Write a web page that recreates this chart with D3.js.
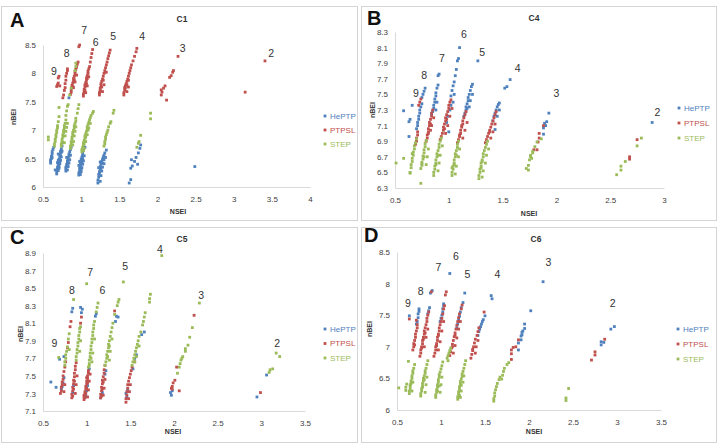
<!DOCTYPE html>
<html><head><meta charset="utf-8">
<script src="https://cdn.jsdelivr.net/npm/d3@7"></script>
<style>body{margin:0;background:#fff}svg{display:block}text{font-family:"Liberation Sans",Arial,sans-serif}</style>
</head><body><svg id="chart" width="718" height="448"></svg>
<script>
const seriesNames = ["HePTP", "PTPSL", "STEP"];
const seriesColors = ["#4f81bd", "#c0504d", "#9bbb59"];

// ---------- C1 ----------
const c1_xTicks = [0.5, 1, 1.5, 2, 2.5, 3, 3.5, 4];
const c1_yTicks = [6, 6.5, 7, 7.5, 8, 8.5];
const c1_HePTP = [
[0.60,6.42],[0.60,6.46],[0.61,6.50],[0.61,6.54],[0.62,6.58],[0.62,6.62],[0.63,6.66],[0.64,6.70],[0.60,6.48],[0.62,6.52],
[0.68,6.23],[0.68,6.27],[0.69,6.31],[0.69,6.35],[0.70,6.38],[0.70,6.42],[0.71,6.45],[0.71,6.49],[0.72,6.52],[0.72,6.56],[0.73,6.60],[0.73,6.63],[0.74,6.67],[0.75,6.72],[0.76,6.78],[0.70,6.47],[0.72,6.44],[0.71,6.36],[0.73,6.55],[0.74,6.61],
[0.66,6.30],[0.70,6.29],[0.71,6.33],[0.72,6.41],[0.73,6.47],[0.74,6.53],[0.75,6.63],[0.69,6.43],[0.70,6.58],
[0.80,6.28],[0.80,6.32],[0.81,6.36],[0.81,6.40],[0.82,6.43],[0.82,6.46],[0.83,6.50],[0.84,6.54],[0.84,6.58],[0.85,6.62],[0.86,6.66],[0.87,6.70],[0.82,6.38],[0.83,6.44],[0.80,6.35],
[0.82,6.30],[0.83,6.36],[0.84,6.42],[0.85,6.48],[0.86,6.56],[0.81,6.52],
[0.97,6.21],[0.97,6.25],[0.98,6.29],[0.98,6.33],[0.99,6.37],[0.99,6.41],[1.00,6.45],[1.00,6.49],[1.01,6.53],[1.02,6.57],[1.02,6.61],[1.03,6.65],[1.05,6.70],[0.99,6.35],[1.01,6.43],[1.00,6.31],[1.02,6.50],
[0.99,6.22],[1.00,6.27],[1.01,6.34],[1.02,6.40],[1.03,6.46],[1.04,6.55],[0.98,6.45],[0.97,6.38],
[1.22,6.07],[1.22,6.12],[1.23,6.17],[1.23,6.22],[1.24,6.27],[1.25,6.31],[1.25,6.36],[1.26,6.40],[1.27,6.45],[1.28,6.49],[1.29,6.53],[1.30,6.56],[1.31,6.60],[1.33,6.65],[1.24,6.24],[1.26,6.33],[1.28,6.42],[1.30,6.48],
[1.25,6.10],[1.26,6.20],[1.27,6.28],[1.28,6.35],[1.30,6.41],[1.32,6.52],[1.23,6.34],[1.25,6.44],
[1.63,6.07],[1.65,6.13],[1.65,6.33],[1.67,6.37],[1.66,6.48],[1.70,6.45],[1.72,6.52],[1.74,6.40],[1.75,6.60],[1.77,6.68],[1.78,6.74],
[2.49,6.36],[0.84,7.57]];
const c1_PTPSL = [
[0.68,7.77],[0.69,7.80],[0.70,7.83],[0.70,7.92],[0.71,7.95],[0.72,7.78],
[0.76,7.57],[0.77,7.62],[0.78,7.70],[0.79,7.75],[0.79,7.82],[0.80,7.88],[0.80,7.95],[0.81,8.00],[0.82,8.05],[0.82,8.08],
[0.86,7.63],[0.87,7.67],[0.87,7.71],[0.88,7.75],[0.88,7.79],[0.89,7.83],[0.90,7.87],[0.90,7.91],[0.91,7.95],[0.92,7.99],[0.92,8.03],[0.93,8.07],[0.94,8.11],[0.95,8.16],[0.96,8.20],[0.89,7.77],[0.91,7.89],[0.97,8.47],[0.98,8.50],
[0.90,7.75],[0.92,7.85],[0.94,7.97],
[1.03,7.60],[1.03,7.64],[1.04,7.68],[1.04,7.72],[1.05,7.76],[1.05,7.80],[1.06,7.84],[1.07,7.88],[1.07,7.92],[1.08,7.96],[1.09,8.00],[1.09,8.04],[1.10,8.08],[1.11,8.12],[1.12,8.20],[1.13,8.28],[1.14,8.35],[1.15,8.42],[1.05,7.70],[1.07,7.82],[1.08,7.91],
[1.06,7.66],[1.08,7.78],[1.10,7.94],
[1.24,7.62],[1.24,7.66],[1.25,7.70],[1.25,7.74],[1.26,7.78],[1.26,7.82],[1.27,7.86],[1.28,7.90],[1.29,7.95],[1.30,8.00],[1.31,8.05],[1.32,8.10],[1.33,8.15],[1.34,8.20],[1.35,8.26],[1.36,8.31],[1.37,8.36],[1.38,8.41],[1.25,7.68],[1.27,7.76],[1.29,7.88],[1.33,8.02],
[1.28,7.68],[1.30,7.80],
[1.56,7.62],[1.56,7.66],[1.57,7.70],[1.58,7.74],[1.58,7.78],[1.59,7.82],[1.60,7.86],[1.61,7.90],[1.62,7.95],[1.63,8.00],[1.64,8.05],[1.65,8.10],[1.66,8.15],[1.68,8.22],[1.70,8.30],[1.72,8.38],[1.73,8.44],[1.57,7.75],[1.60,7.80],[1.62,7.88],
[1.60,7.68],[1.62,7.76],
[2.05,7.62],[2.06,7.67],[2.05,7.71],[2.08,7.74],[2.10,7.78],[2.12,7.53],[2.16,7.93],[2.18,7.96],[2.20,8.02],[2.21,8.05],[2.27,8.30],
[3.15,7.67],[3.41,8.22]];
const c1_STEP = [
[0.57,6.88],[0.57,6.83],
[0.65,6.72],[0.65,6.76],[0.66,6.80],[0.66,6.84],[0.67,6.88],[0.67,6.92],[0.68,6.96],[0.68,7.00],[0.69,7.04],[0.69,7.08],[0.70,7.15],[0.71,7.24],[0.71,7.40],
[0.74,6.72],[0.74,6.76],[0.75,6.80],[0.75,6.84],[0.76,6.88],[0.76,6.92],[0.77,6.96],[0.77,7.00],[0.78,7.04],[0.78,7.08],[0.79,7.12],[0.80,7.18],[0.80,7.26],[0.81,7.34],[0.82,7.42],[0.83,7.45],
[0.79,6.90],[0.80,6.98],[0.81,7.05],[0.78,6.78],[0.82,7.12],
[0.86,6.68],[0.86,6.72],[0.87,6.76],[0.87,6.80],[0.88,6.84],[0.88,6.88],[0.89,6.92],[0.89,6.96],[0.90,7.00],[0.91,7.04],[0.91,7.08],[0.92,7.12],[0.93,7.16],[0.93,7.21],[0.95,7.30],[0.96,7.38],[0.97,7.45],[0.85,7.62],[0.87,7.74],[0.93,8.12],[0.93,8.18],[0.92,8.05],
[0.90,6.80],[0.91,6.90],[0.92,6.98],[0.93,7.06],[0.89,6.74],
[1.01,6.62],[1.01,6.66],[1.02,6.70],[1.03,6.74],[1.03,6.78],[1.04,6.82],[1.05,6.86],[1.05,6.90],[1.06,6.94],[1.07,6.98],[1.08,7.02],[1.08,7.06],[1.09,7.10],[1.10,7.14],[1.11,7.18],[1.12,7.22],[1.13,7.26],[1.15,7.30],[1.16,7.33],[1.04,6.76],[1.06,6.88],[1.09,7.00],
[1.04,6.68],[1.06,6.80],[1.08,6.92],[1.10,7.04],[1.12,7.12],[1.03,6.64],
[1.30,6.72],[1.31,6.76],[1.31,6.80],[1.32,6.84],[1.32,6.88],[1.33,6.92],[1.34,6.96],[1.35,7.00],[1.36,7.06],[1.38,7.12],[1.39,7.15],[1.42,7.30],[1.43,7.35],
[1.73,6.70],[1.75,6.77],[1.76,6.80],[1.78,6.91],
[1.91,7.30],[1.91,7.20]];
const c1_groupLabels = [["9",0.644,8.04],["8",0.81,8.36],["7",1.04,8.76],["6",1.19,8.55],["5",1.42,8.66],["4",1.80,8.66],["3",2.33,8.45],["2",3.49,8.36]];

// ---------- C4 ----------
const c4_xTicks = [0.5, 1, 1.5, 2, 2.5, 3];
const c4_yTicks = [6.3, 6.5, 6.7, 6.9, 7.1, 7.3, 7.5, 7.7, 7.9, 8.1, 8.3];
const c4_HePTP = [
[0.70,7.06],[0.71,7.10],[0.71,7.14],[0.72,7.18],[0.72,7.22],[0.73,7.26],[0.73,7.30],[0.74,7.34],[0.75,7.38],[0.75,7.46],[0.76,7.50],[0.77,7.54],[0.78,7.58],[0.58,7.29],[0.63,7.15],[0.64,7.18],[0.66,7.36],[0.63,6.96],
[0.84,7.24],[0.85,7.28],[0.86,7.32],[0.86,7.36],[0.87,7.40],[0.87,7.44],[0.88,7.48],[0.88,7.52],[0.89,7.58],[0.90,7.62],[0.90,7.74],[0.91,7.76],
[0.88,7.30],[0.89,7.40],
[0.98,7.14],[0.99,7.22],[1.01,7.30],[1.02,7.36],[1.02,7.48],[1.03,7.55],[1.04,7.61],[1.05,7.66],[1.06,7.74],[1.07,7.82],[1.08,7.93],[1.09,7.96],[1.10,8.10],[1.00,7.02],
[1.04,7.40],[1.05,7.50],
[1.14,7.22],[1.15,7.26],[1.16,7.30],[1.16,7.34],[1.17,7.38],[1.18,7.42],[1.18,7.46],[1.19,7.50],[1.20,7.55],[1.21,7.60],[1.22,7.63],[1.27,7.93],[1.17,7.32],
[1.19,7.34],[1.20,7.42],[1.22,7.50],
[1.41,7.16],[1.42,7.22],[1.43,7.26],[1.44,7.30],[1.45,7.34],[1.46,7.37],[1.47,7.39],[1.52,7.58],[1.54,7.60],[1.57,7.69],[1.43,7.05],
[1.45,7.22],[1.47,7.30],
[1.93,7.26],[1.91,7.15],[1.89,7.13],[1.88,7.07],[1.88,6.99],[1.90,7.10],
[2.89,7.14]];
const c4_PTPSL = [
[0.69,6.86],[0.70,6.90],[0.70,6.94],[0.71,6.98],[0.71,7.02],[0.73,7.40],[0.74,7.44],[0.72,7.36],
[0.79,6.90],[0.80,6.94],[0.80,6.98],[0.81,7.02],[0.81,7.06],[0.82,7.10],[0.82,7.14],[0.83,7.18],[0.84,7.22],[0.84,7.26],[0.85,7.30],[0.83,7.12],[0.81,7.00],
[0.83,7.04],[0.84,7.10],[0.86,7.20],
[0.92,6.92],[0.93,6.96],[0.94,7.00],[0.95,7.04],[0.95,7.08],[0.96,7.12],[0.97,7.16],[0.97,7.20],[0.98,7.24],[0.99,7.28],[1.00,7.32],[1.00,7.36],[1.01,7.40],[1.02,7.43],[0.96,7.06],[0.98,7.18],
[0.97,7.00],[0.99,7.10],[1.01,7.22],[1.03,7.32],
[1.08,6.88],[1.09,6.92],[1.10,6.96],[1.11,7.00],[1.11,7.04],[1.12,7.08],[1.13,7.12],[1.13,7.16],[1.14,7.20],[1.15,7.24],[1.16,7.28],[1.10,6.98],[1.12,7.10],
[1.13,6.94],[1.15,7.04],[1.17,7.14],
[1.34,6.88],[1.35,6.92],[1.36,6.96],[1.37,7.00],[1.38,7.04],[1.39,7.08],[1.40,7.12],[1.41,7.16],[1.42,7.20],[1.43,7.24],[1.44,7.28],[1.38,7.02],
[1.39,6.94],[1.41,7.02],[1.43,7.12],
[1.88,7.10],[1.84,7.00],[1.84,6.94],[1.83,6.89],[1.82,6.79],[1.79,6.79],
[2.75,6.92],[2.68,6.70],[2.68,6.67]];
const c4_STEP = [
[0.64,6.50],[0.65,6.56],[0.65,6.60],[0.66,6.64],[0.66,6.68],[0.67,6.72],[0.67,6.76],[0.68,6.80],[0.68,6.84],[0.69,6.88],[0.70,6.93],[0.66,6.74],[0.51,6.62],[0.58,6.68],[0.64,6.49],
[0.74,6.36],[0.74,6.55],[0.75,6.59],[0.75,6.63],[0.76,6.67],[0.76,6.71],[0.77,6.75],[0.77,6.79],[0.78,6.83],[0.78,6.87],[0.79,6.91],[0.75,6.61],[0.77,6.70],
[0.79,6.60],[0.80,6.70],[0.81,6.80],
[0.86,6.46],[0.86,6.50],[0.87,6.54],[0.87,6.58],[0.88,6.62],[0.88,6.66],[0.89,6.70],[0.89,6.74],[0.90,6.78],[0.91,6.82],[0.91,6.86],[0.92,6.90],[0.93,6.94],[0.88,6.60],[0.90,6.72],
[0.90,6.52],[0.91,6.62],[0.92,6.72],[0.94,6.84],
[1.03,6.46],[1.03,6.50],[1.04,6.54],[1.04,6.58],[1.05,6.62],[1.05,6.66],[1.06,6.70],[1.06,6.74],[1.07,6.78],[1.08,6.82],[1.08,6.86],[1.09,6.90],[1.05,6.60],[1.07,6.72],[1.03,6.56],
[1.06,6.48],[1.07,6.58],[1.09,6.70],[1.10,6.80],
[1.28,6.42],[1.28,6.46],[1.29,6.50],[1.29,6.54],[1.30,6.58],[1.30,6.62],[1.31,6.66],[1.32,6.70],[1.32,6.74],[1.33,6.78],[1.34,6.82],[1.35,6.86],[1.36,6.90],[1.30,6.56],[1.31,6.64],
[1.31,6.44],[1.32,6.52],[1.34,6.62],[1.35,6.72],[1.37,6.80],
[1.86,6.93],[1.82,6.89],[1.80,6.83],[1.78,6.75],[1.76,6.72],[1.76,6.70],[1.75,6.66],[1.74,6.59],[1.74,6.53],[1.72,6.55],[1.78,6.77],[1.77,6.68],
[2.79,6.94],[2.75,6.84],[2.64,6.64],[2.60,6.58],[2.60,6.53],[2.56,6.47]];
const c4_groupLabels = [["9",0.695,7.52],["8",0.77,7.74],["7",0.937,7.97],["6",1.14,8.27],["5",1.31,8.04],["4",1.64,7.83],["3",2.0,7.52],["2",2.94,7.27]];

// ---------- C5 ----------
const c5_xTicks = [0.5, 1, 1.5, 2, 2.5, 3, 3.5];
const c5_yTicks = [7.1, 7.3, 7.5, 7.7, 7.9, 8.1, 8.3, 8.5, 8.7, 8.9];
const c5_HePTP = [
[0.59,7.43],[0.65,7.37],[0.69,7.69],
[0.71,7.35],[0.72,7.38],[0.73,7.42],[0.74,7.48],[0.84,8.27],[0.83,8.23],[0.74,7.72],
[0.84,7.31],[0.85,7.39],[0.94,8.22],[0.95,8.26],[0.93,8.28],
[0.99,7.27],[1.00,7.33],[1.01,7.39],[1.03,7.58],[1.10,8.18],[1.11,8.21],
[1.16,7.25],[1.18,7.31],[1.21,7.52],[1.22,7.56],[1.36,8.17],[1.34,8.18],[1.33,8.12],
[1.45,7.30],[1.46,7.26],[1.47,7.34],[1.53,7.58],[1.55,7.70],[1.57,7.74],[1.63,7.97],[1.66,8.00],
[1.98,7.33],[1.96,7.31],[1.97,7.28],
[2.95,7.26],[3.06,7.51]];
const c5_PTPSL = [
[0.70,7.30],[0.71,7.33],[0.71,7.37],[0.72,7.40],[0.72,7.43],[0.73,7.46],[0.73,7.50],[0.74,7.55],[0.75,7.60],[0.76,7.66],[0.78,7.82],[0.79,7.88],[0.81,8.06],[0.82,8.12],
[0.74,7.32],[0.75,7.40],
[0.83,7.25],[0.83,7.29],[0.84,7.33],[0.84,7.37],[0.85,7.41],[0.85,7.45],[0.86,7.49],[0.86,7.53],[0.87,7.57],[0.87,7.61],[0.88,7.65],[0.84,7.27],[0.85,7.35],[0.86,7.44],[0.94,8.17],[0.93,8.10],
[0.87,7.30],[0.88,7.40],[0.89,7.50],
[0.97,7.23],[0.97,7.26],[0.98,7.29],[0.98,7.32],[0.99,7.35],[0.99,7.38],[1.00,7.41],[1.00,7.44],[1.01,7.47],[1.01,7.50],[1.02,7.53],[1.02,7.56],[0.98,7.25],[0.99,7.30],[1.00,7.36],[1.01,7.42],[0.97,7.28],[1.00,7.48],
[1.01,7.26],[1.02,7.34],[1.03,7.44],[1.04,7.52],
[1.16,7.25],[1.16,7.29],[1.17,7.33],[1.17,7.37],[1.18,7.41],[1.18,7.45],[1.19,7.49],[1.20,7.53],[1.20,7.57],[1.21,7.62],[1.17,7.27],[1.18,7.35],[1.19,7.43],[1.32,8.24],
[1.19,7.28],[1.20,7.36],[1.21,7.46],
[1.45,7.20],[1.45,7.24],[1.46,7.28],[1.46,7.32],[1.47,7.36],[1.47,7.40],[1.48,7.44],[1.49,7.48],[1.50,7.52],[1.51,7.56],[1.52,7.60],[1.55,7.66],
[1.48,7.24],[1.49,7.32],[1.50,7.40],
[2.23,8.19],[2.03,7.60],[2.01,7.45],[1.99,7.42],[1.98,7.38],[1.97,7.36],[2.06,7.33],[1.98,7.35],
[2.99,7.31]];
const c5_STEP = [
[0.68,7.71],
[0.75,7.62],[0.75,7.66],[0.76,7.70],[0.76,7.74],[0.77,7.78],[0.78,7.83],[0.79,7.92],[0.80,7.98],[0.85,8.37],[0.80,7.80],
[0.88,7.68],[0.88,7.72],[0.89,7.76],[0.89,7.80],[0.90,7.84],[0.90,7.88],[0.91,7.92],[0.91,7.96],[0.92,8.00],[0.92,8.04],[0.93,8.06],
[0.92,7.78],[0.93,7.90],
[1.02,7.60],[1.03,7.64],[1.03,7.68],[1.04,7.72],[1.04,7.76],[1.05,7.80],[1.05,7.84],[1.06,7.88],[1.06,7.92],[1.07,7.96],[1.07,8.00],[1.08,8.04],[1.08,8.08],[1.09,8.12],[1.11,8.23],[1.12,8.28],[1.13,8.33],[1.05,7.70],[1.03,7.62],[1.00,8.55],
[1.06,7.66],[1.07,7.76],[1.09,7.92],
[1.21,7.62],[1.22,7.66],[1.23,7.70],[1.23,7.74],[1.24,7.78],[1.25,7.82],[1.25,7.86],[1.26,7.90],[1.27,7.95],[1.28,8.00],[1.29,8.05],[1.30,8.10],[1.32,8.20],[1.35,8.30],[1.36,8.34],[1.37,8.37],[1.24,7.72],[1.26,7.84],[1.42,8.57],
[1.26,7.68],[1.27,7.78],[1.29,7.92],
[1.52,7.62],[1.53,7.66],[1.54,7.70],[1.55,7.74],[1.56,7.78],[1.57,7.82],[1.58,7.86],[1.59,7.90],[1.60,7.95],[1.62,8.00],[1.64,8.08],[1.65,8.12],[1.66,8.17],[1.67,8.22],[1.72,8.34],[1.72,8.38],[1.73,8.43],[1.86,8.87],
[1.55,7.66],[1.57,7.72],[1.60,7.84],
[2.29,8.33],[2.21,8.05],[2.18,7.94],[2.16,7.85],[2.13,7.81],[2.13,7.78],[2.10,7.72],[2.08,7.68],[2.07,7.64],[2.06,7.60],[2.04,7.53],[2.09,7.70],
[3.09,7.54],[3.10,7.57],[3.13,7.58],[3.17,7.76],[3.21,7.72]];
const c5_groupLabels = [["9",0.63,7.87],["8",0.83,8.48],["7",1.04,8.68],["6",1.18,8.48],["5",1.44,8.75],["4",1.84,8.94],["3",2.31,8.42],["2",3.18,7.87]];

// ---------- C6 ----------
const c6_xTicks = [0.5, 1, 1.5, 2, 2.5, 3, 3.5];
const c6_yTicks = [6, 6.5, 7, 7.5, 8, 8.5];
const c6_HePTP = [
[0.64,7.49],[0.72,7.36],[0.73,7.40],[0.74,7.46],[0.74,7.52],[0.75,7.56],[0.75,7.60],
[0.85,7.52],[0.86,7.57],[0.87,7.62],[0.90,7.89],[0.88,7.85],
[0.99,7.40],[1.00,7.45],[1.01,7.50],[1.02,7.55],[1.02,7.60],[1.03,7.65],[1.03,7.68],
[1.18,7.30],[1.19,7.36],[1.20,7.42],[1.21,7.48],[1.22,7.55],[1.23,7.62],[1.25,7.70],[1.27,7.85],[1.10,8.16],
[1.42,7.18],[1.43,7.24],[1.44,7.28],[1.45,7.32],[1.46,7.36],[1.47,7.40],[1.48,7.43],[1.50,7.49],[1.57,7.81],[1.58,7.76],
[2.16,8.03],[2.02,7.57],[1.95,7.36],[1.95,7.29],[1.93,7.25],[1.92,7.19],[1.91,7.17],[1.91,7.11],[1.88,7.06],[1.88,6.95],[1.92,7.23],
[2.82,7.03],[2.82,7.08],[2.85,7.07],[2.93,7.28],[2.97,7.32]];
const c6_PTPSL = [
[0.64,7.44],[0.68,6.95],[0.69,7.00],[0.69,7.05],[0.70,7.10],[0.71,7.15],[0.71,7.20],[0.72,7.25],[0.73,7.30],[0.73,7.35],[0.70,7.03],[0.72,7.42],
[0.76,6.85],[0.77,6.90],[0.77,6.95],[0.78,7.00],[0.79,7.05],[0.79,7.10],[0.80,7.15],[0.81,7.20],[0.81,7.25],[0.82,7.30],[0.83,7.35],[0.84,7.40],[0.84,7.45],[0.85,7.50],[0.86,7.55],[0.89,7.87],[0.78,6.98],[0.80,7.12],[0.82,7.22],
[0.81,7.00],[0.83,7.15],[0.85,7.28],
[0.92,6.85],[0.93,6.90],[0.94,6.95],[0.94,7.00],[0.95,7.05],[0.96,7.10],[0.96,7.15],[0.97,7.20],[0.98,7.25],[0.98,7.30],[0.99,7.35],[1.00,7.40],[1.01,7.45],[1.02,7.52],[1.03,7.60],[1.04,7.65],[1.06,7.87],[1.05,7.82],[0.95,7.02],[0.97,7.18],
[0.97,6.95],[0.99,7.08],[1.01,7.25],[1.03,7.40],
[1.10,6.86],[1.11,6.92],[1.12,6.98],[1.13,7.04],[1.14,7.10],[1.15,7.16],[1.16,7.22],[1.17,7.28],[1.18,7.34],[1.19,7.40],[1.20,7.46],[1.21,7.52],[1.23,7.60],[1.24,7.66],[1.13,7.00],[1.16,7.18],
[1.14,6.90],[1.16,7.02],[1.18,7.14],[1.20,7.28],[1.22,7.40],
[1.34,6.82],[1.35,6.88],[1.36,6.94],[1.37,7.00],[1.38,7.06],[1.39,7.12],[1.41,7.18],[1.42,7.24],[1.43,7.30],[1.49,7.55],[1.36,6.96],
[1.39,6.90],[1.40,7.00],[1.42,7.10],
[1.88,7.11],[1.85,7.00],[1.82,6.99],[1.80,6.95],[1.80,6.89],[1.80,6.80],
[2.71,6.79],[2.75,6.92],[2.75,6.87],[2.86,7.12]];
const c6_STEP = [
[0.52,6.35],[0.60,6.36],[0.60,6.31],[0.61,6.41],[0.64,6.26],[0.64,6.30],[0.65,6.34],[0.65,6.38],[0.66,6.42],[0.66,6.46],[0.67,6.50],[0.67,6.54],[0.68,6.58],[0.68,6.62],[0.69,6.66],[0.70,6.72],[0.63,6.77],[0.65,6.40],
[0.67,6.30],[0.68,6.44],
[0.77,6.22],[0.77,6.26],[0.78,6.30],[0.78,6.34],[0.79,6.38],[0.79,6.42],[0.80,6.46],[0.80,6.50],[0.81,6.54],[0.82,6.58],[0.82,6.62],[0.83,6.66],[0.84,6.72],[0.85,6.78],[0.79,6.36],[0.81,6.48],
[0.82,6.28],[0.83,6.40],[0.84,6.52],
[0.94,6.20],[0.94,6.24],[0.95,6.28],[0.95,6.32],[0.96,6.36],[0.96,6.40],[0.97,6.44],[0.97,6.48],[0.98,6.52],[0.98,6.56],[0.99,6.60],[1.00,6.65],[1.01,6.70],[1.02,6.76],[0.96,6.30],[0.98,6.38],
[0.99,6.28],[1.00,6.40],[1.01,6.52],
[1.07,6.82],[1.08,6.86],[1.09,6.90],[1.10,6.94],[1.11,6.98],[1.08,6.78],
[1.19,6.17],[1.19,6.21],[1.20,6.25],[1.20,6.29],[1.21,6.33],[1.21,6.37],[1.22,6.41],[1.22,6.45],[1.23,6.49],[1.24,6.53],[1.24,6.57],[1.25,6.61],[1.26,6.66],[1.27,6.72],[1.28,6.78],[1.21,6.23],[1.23,6.39],
[1.22,6.20],[1.23,6.30],[1.25,6.44],[1.26,6.54],
[1.60,6.14],[1.60,6.18],[1.61,6.22],[1.61,6.27],[1.62,6.32],[1.63,6.37],[1.64,6.42],[1.66,6.48],[1.67,6.52],[1.69,6.49],[1.70,6.55],[1.71,6.61],[1.72,6.66],[1.75,6.72],[1.77,6.75],
[2.45,6.34],[2.42,6.19],[2.42,6.15]];
const c6_groupLabels = [["9",0.625,7.69],["8",0.77,7.88],["7",0.97,8.26],["6",1.17,8.44],["5",1.30,8.15],["4",1.64,8.15],["3",2.22,8.34],["2",2.95,7.69]];

// ---------- layout ----------
const panels = [
  {letter:"A", title:"C1", series:[c1_HePTP,c1_PTPSL,c1_STEP], xTicks:c1_xTicks, yTicks:c1_yTicks, labels:c1_groupLabels,
   box:[1,6,357,220], xr:[43,310], yr:[187,45], letterXY:[10,27], titleXY:[182,19], xTitleXY:[178,211], yTitleXY:[13,117], legendXY:[325,116], legendGap:14},
  {letter:"B", title:"C4", series:[c4_HePTP,c4_PTPSL,c4_STEP], xTicks:c4_xTicks, yTicks:c4_yTicks, labels:c4_groupLabels,
   box:[361,6,716,220], xr:[395,664], yr:[188,32], letterXY:[367,25], titleXY:[534,18], xTitleXY:[529,213], yTitleXY:[372,110], legendXY:[679,108], legendGap:15},
  {letter:"C", title:"C5", series:[c5_HePTP,c5_PTPSL,c5_STEP], xTicks:c5_xTicks, yTicks:c5_yTicks, labels:c5_groupLabels,
   box:[1,227,357,442], xr:[43,305], yr:[411,253], letterXY:[10,244], titleXY:[182,239], xTitleXY:[173,431], yTitleXY:[20,334], legendXY:[325,329], legendGap:14.5},
  {letter:"D", title:"C6", series:[c6_HePTP,c6_PTPSL,c6_STEP], xTicks:c6_xTicks, yTicks:c6_yTicks, labels:c6_groupLabels,
   box:[361,227,716,442], xr:[397,661], yr:[410,252], letterXY:[364,242], titleXY:[536,239], xTitleXY:[534,431], yTitleXY:[369,329], legendXY:[678,329], legendGap:15}
];

const svg = d3.select("#chart");
svg.append("rect").attr("width",718).attr("height",448).attr("fill","#fff");

panels.forEach(p => {
  const g = svg.append("g");
  g.append("rect").attr("x",p.box[0]+0.5).attr("y",p.box[1]+0.5)
    .attr("width",p.box[2]-p.box[0]).attr("height",p.box[3]-p.box[1])
    .attr("fill","#fff").attr("stroke","#d4d4d4").attr("stroke-width",1);

  const x = d3.scaleLinear().domain(d3.extent(p.xTicks)).range(p.xr);
  const y = d3.scaleLinear().domain(d3.extent(p.yTicks)).range(p.yr);

  const xAxis = d3.axisBottom(x).tickValues(p.xTicks).tickSize(0).tickPadding(9).tickFormat(d => String(d));
  const yAxis = d3.axisLeft(y).tickValues(p.yTicks).tickSize(0).tickPadding(7).tickFormat(d => String(d));
  const gx = g.append("g").attr("transform",`translate(0,${p.yr[0]})`).call(xAxis);
  const gy = g.append("g").attr("transform",`translate(${p.xr[0]},0)`).call(yAxis);
  [gx, gy].forEach(a => {
    a.select(".domain").attr("stroke","#d9d9d9").attr("stroke-width",1);
    a.selectAll("text").attr("font-size",8).attr("fill","#404040").attr("font-family","Liberation Sans, Arial, sans-serif");
  });

  p.series.forEach((pts, si) => {
    g.append("g").selectAll("rect").data(pts).join("rect")
      .attr("x", d => x(d[0]) - 1.4).attr("y", d => y(d[1]) - 1.4)
      .attr("width",2.8).attr("height",2.8)
      .attr("fill", seriesColors[si]);
  });

  g.append("g").selectAll("text").data(p.labels).join("text")
    .attr("x", d => x(d[1])).attr("y", d => y(d[2])).attr("dy","0.36em")
    .attr("text-anchor","middle").attr("font-size",10.5).attr("fill","#333")
    .text(d => d[0]);

  g.append("text").attr("x",p.letterXY[0]).attr("y",p.letterXY[1])
    .attr("font-size",20).attr("font-weight","bold").attr("fill","#111").text(p.letter);
  g.append("text").attr("x",p.titleXY[0]).attr("y",p.titleXY[1]).attr("dy","0.36em")
    .attr("text-anchor","middle").attr("font-size",8.5).attr("font-weight","bold").attr("fill","#333").text(p.title);
  g.append("text").attr("x",p.xTitleXY[0]).attr("y",p.xTitleXY[1]).attr("dy","0.36em")
    .attr("text-anchor","middle").attr("font-size",7).attr("font-weight","bold").attr("fill","#333").text("NSEI");
  g.append("text").attr("transform",`translate(${p.yTitleXY[0]},${p.yTitleXY[1]}) rotate(-90)`).attr("dy","0.36em")
    .attr("text-anchor","middle").attr("font-size",7).attr("font-weight","bold").attr("fill","#333").text("nBEI");

  seriesNames.forEach((name, i) => {
    const ly = p.legendXY[1] + i * p.legendGap;
    g.append("rect").attr("x",p.legendXY[0]-1.4).attr("y",ly-1.4).attr("width",2.8).attr("height",2.8).attr("fill",seriesColors[i]);
    g.append("text").attr("x",p.legendXY[0]+5).attr("y",ly).attr("dy","0.36em")
      .attr("font-size",8).attr("fill",seriesColors[i]).text(name);
  });
});
</script></body></html>
